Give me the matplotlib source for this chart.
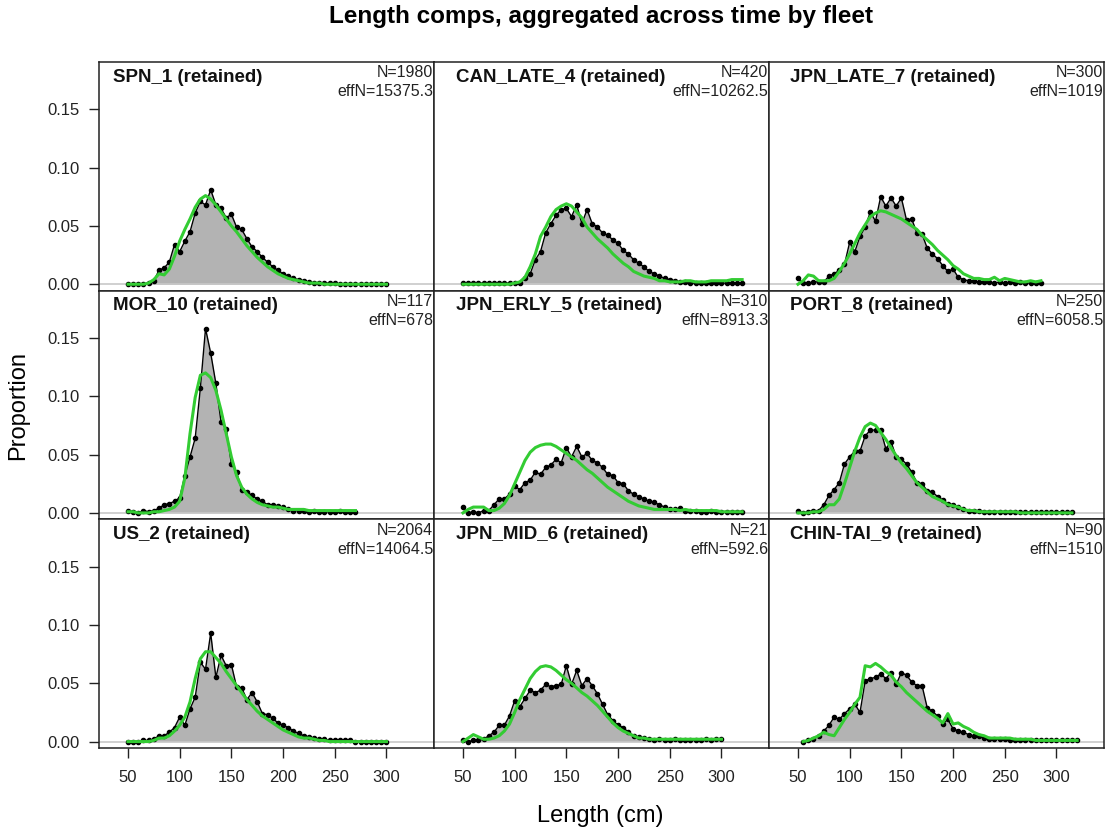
import numpy as np
import matplotlib
matplotlib.use("Agg")
import matplotlib.pyplot as plt

plt.rcParams['font.family'] = ['Liberation Sans', 'DejaVu Sans']

# panel names, sample sizes, length bin ranges (row by row)
fleets = ['SPN_1', 'CAN_LATE_4', 'JPN_LATE_7',
          'MOR_10', 'JPN_ERLY_5', 'PORT_8',
          'US_2', 'JPN_MID_6', 'CHIN-TAI_9']
n_obs = ['1980', '420', '300', '117', '310', '250', '2064', '21', '90']
eff_n = ['15375.3', '10262.5', '1019', '678', '8913.3', '6058.5', '14064.5', '592.6', '1510']
bin_start = [50, 50, 50, 50, 50, 50, 50, 50, 55]
bin_end = [300, 320, 285, 270, 320, 315, 300, 300, 320]

spn_obs = [0, 0, 0, 0, 0.001, 0.003, 0.012, 0.014, 0.019, 0.034,
           0.028, 0.037, 0.045, 0.061, 0.071, 0.068, 0.081, 0.068, 0.065, 0.057,
           0.060, 0.049, 0.047, 0.039, 0.032, 0.028, 0.023, 0.019, 0.015, 0.012,
           0.009, 0.007, 0.005, 0.004, 0.003, 0.002, 0.001, 0.001, 0.001, 0.001,
           0.001, 0, 0, 0, 0, 0, 0, 0, 0, 0, 0]
spn_exp = [0, 0, 0, 0, 0.001, 0.004, 0.009, 0.008, 0.013, 0.024,
           0.037, 0.047, 0.056, 0.066, 0.073, 0.076, 0.073, 0.068, 0.062, 0.056,
           0.050, 0.045, 0.039, 0.033, 0.028, 0.023, 0.019, 0.015, 0.012, 0.009,
           0.007, 0.005, 0.004, 0.003, 0.002, 0.001, 0.001, 0.001, 0, 0,
           0, 0, 0, 0, 0, 0, 0, 0, 0, 0, 0]

can_obs = [0.001, 0.001, 0.001, 0.001, 0.001, 0.001, 0.001, 0.001, 0.001, 0.001,
           0.001, 0.001, 0.005, 0.009, 0.021, 0.028, 0.044, 0.052, 0.059, 0.064,
           0.065, 0.058, 0.068, 0.052, 0.064, 0.052, 0.049, 0.044, 0.042, 0.038,
           0.035, 0.029, 0.026, 0.021, 0.018, 0.015, 0.011, 0.009, 0.007, 0.005,
           0.004, 0.003, 0.002, 0.002, 0.001, 0.001, 0.001, 0.001, 0.001, 0.001,
           0.001, 0.001, 0.001, 0.001, 0.001]
can_exp = [0, 0, 0, 0, 0, 0, 0, 0, 0, 0,
           0.001, 0.002, 0.006, 0.015, 0.026, 0.041, 0.049, 0.058, 0.064, 0.067,
           0.069, 0.067, 0.062, 0.057, 0.049, 0.044, 0.039, 0.035, 0.031, 0.026,
           0.022, 0.018, 0.015, 0.011, 0.009, 0.007, 0.006, 0.005, 0.003, 0.003,
           0.002, 0.002, 0.002, 0.003, 0.003, 0.002, 0.002, 0.002, 0.003, 0.003,
           0.003, 0.003, 0.004, 0.004, 0.004]

late_obs = [0.005, 0.001, 0.001, 0.002, 0.002, 0.002, 0.007, 0.009, 0.012, 0.017,
            0.036, 0.028, 0.041, 0.049, 0.062, 0.054, 0.075, 0.067, 0.074, 0.067,
            0.074, 0.055, 0.056, 0.044, 0.043, 0.031, 0.026, 0.022, 0.016, 0.011,
            0.013, 0.006, 0.004, 0.003, 0.003, 0.002, 0.002, 0.002, 0.001, 0.002,
            0.001, 0.002, 0.001, 0.002, 0.001, 0.001, 0.001, 0.001]
late_exp = [0, 0.003, 0.008, 0.007, 0.003, 0.003, 0.003, 0.005, 0.011, 0.018,
            0.026, 0.035, 0.044, 0.051, 0.058, 0.061, 0.063, 0.062, 0.060, 0.058,
            0.056, 0.053, 0.050, 0.047, 0.042, 0.038, 0.034, 0.029, 0.025, 0.021,
            0.016, 0.013, 0.009, 0.007, 0.005, 0.005, 0.004, 0.004, 0.006, 0.003,
            0.005, 0.004, 0.003, 0.002, 0.002, 0.003, 0.002, 0.003]

mor_obs = [0.002, 0.001, 0, 0.002, 0.001, 0.002, 0.004, 0.007, 0.008, 0.010,
           0.013, 0.032, 0.048, 0.064, 0.107, 0.158, 0.137, 0.111, 0.078, 0.072,
           0.042, 0.035, 0.020, 0.018, 0.015, 0.012, 0.010, 0.007, 0.007, 0.006,
           0.005, 0.003, 0.002, 0.002, 0.002, 0.001, 0.002, 0.001, 0.001, 0.001,
           0.001, 0.002, 0.001, 0.001, 0.001]
mor_exp = [0.001, 0.001, 0, 0, 0, 0.001, 0.001, 0.002, 0.003, 0.005,
           0.010, 0.030, 0.068, 0.099, 0.118, 0.120, 0.116, 0.105, 0.088, 0.068,
           0.048, 0.032, 0.022, 0.016, 0.012, 0.009, 0.007, 0.006, 0.005, 0.005,
           0.004, 0.003, 0.003, 0.003, 0.003, 0.002, 0.002, 0.002, 0.002, 0.002,
           0.002, 0.002, 0.002, 0.002, 0.002]

erly_obs = [0.005, 0, 0.001, 0, 0.002, 0.002, 0.007, 0.012, 0.012, 0.016,
            0.023, 0.020, 0.026, 0.028, 0.035, 0.033, 0.039, 0.041, 0.046, 0.043,
            0.056, 0.048, 0.057, 0.048, 0.051, 0.045, 0.043, 0.039, 0.033, 0.032,
            0.026, 0.025, 0.019, 0.016, 0.014, 0.012, 0.010, 0.009, 0.007, 0.005,
            0.003, 0.003, 0.004, 0.002, 0.002, 0.002, 0.001, 0.001, 0.002, 0.001,
            0.001, 0.001, 0.001, 0.001, 0.001]
erly_exp = [0, 0.003, 0.005, 0.005, 0.005, 0.002, 0.002, 0.004, 0.008, 0.015,
            0.025, 0.035, 0.045, 0.052, 0.056, 0.058, 0.059, 0.059, 0.057, 0.054,
            0.051, 0.048, 0.045, 0.041, 0.037, 0.034, 0.030, 0.026, 0.022, 0.019,
            0.016, 0.013, 0.010, 0.008, 0.006, 0.005, 0.004, 0.003, 0.003, 0.003,
            0.003, 0.003, 0.002, 0.003, 0.002, 0.002, 0.002, 0.002, 0.002, 0.002,
            0.001, 0.001, 0.001, 0.001, 0.001]

port_obs = [0.002, 0, 0.001, 0.002, 0.002, 0.007, 0.015, 0.020, 0.026, 0.042,
            0.048, 0.053, 0.053, 0.066, 0.071, 0.071, 0.071, 0.055, 0.061, 0.048,
            0.046, 0.042, 0.035, 0.026, 0.025, 0.019, 0.018, 0.014, 0.011, 0.008,
            0.007, 0.005, 0.003, 0.002, 0.002, 0.002, 0.001, 0.001, 0.001, 0.001,
            0.001, 0.001, 0.001, 0.001, 0.001, 0.001, 0.001, 0.001, 0.001, 0.001,
            0.001, 0.001, 0.001, 0.001]
port_exp = [0, 0, 0, 0.001, 0.001, 0.003, 0.007, 0.007, 0.012, 0.025,
            0.039, 0.053, 0.065, 0.074, 0.077, 0.075, 0.069, 0.063, 0.056, 0.049,
            0.043, 0.038, 0.032, 0.026, 0.022, 0.018, 0.014, 0.012, 0.010, 0.007,
            0.006, 0.005, 0.003, 0.002, 0.002, 0.001, 0.001, 0.001, 0.001, 0.001,
            0.001, 0.001, 0.001, 0, 0, 0, 0, 0, 0, 0,
            0, 0, 0, 0]

us_obs = [0, 0, 0, 0.001, 0.001, 0.002, 0.005, 0.005, 0.008, 0.012,
          0.021, 0.014, 0.028, 0.038, 0.068, 0.062, 0.093, 0.055, 0.074, 0.065,
          0.066, 0.047, 0.046, 0.036, 0.042, 0.034, 0.024, 0.023, 0.020, 0.016,
          0.014, 0.012, 0.009, 0.007, 0.005, 0.004, 0.003, 0.002, 0.002, 0.001,
          0.001, 0.001, 0.001, 0.001, 0, 0, 0, 0, 0, 0, 0]
us_exp = [0, 0, 0, 0, 0, 0.001, 0.003, 0.003, 0.005, 0.009,
          0.014, 0.021, 0.034, 0.054, 0.071, 0.077, 0.077, 0.072, 0.067, 0.060,
          0.054, 0.048, 0.042, 0.036, 0.031, 0.026, 0.022, 0.019, 0.016, 0.013,
          0.010, 0.008, 0.006, 0.004, 0.003, 0.003, 0.002, 0.001, 0.001, 0,
          0, 0, 0, 0, 0, 0, 0, 0, 0, 0, 0]

mid_obs = [0.001, 0, 0.001, 0.001, 0.002, 0.005, 0.008, 0.014, 0.014, 0.022,
           0.035, 0.030, 0.037, 0.044, 0.042, 0.044, 0.049, 0.047, 0.048, 0.049,
           0.065, 0.049, 0.061, 0.048, 0.054, 0.048, 0.041, 0.032, 0.023, 0.018,
           0.014, 0.012, 0.008, 0.005, 0.004, 0.003, 0.002, 0.001, 0.002, 0.001,
           0.001, 0.002, 0.001, 0.001, 0.001, 0.001, 0.001, 0.002, 0.001, 0.002,
           0.002]
mid_exp = [0, 0.003, 0.006, 0.004, 0.002, 0.002, 0.003, 0.005, 0.009, 0.015,
           0.025, 0.036, 0.045, 0.054, 0.060, 0.064, 0.065, 0.064, 0.061, 0.057,
           0.053, 0.050, 0.046, 0.042, 0.039, 0.035, 0.031, 0.026, 0.021, 0.016,
           0.012, 0.009, 0.007, 0.005, 0.003, 0.003, 0.002, 0.002, 0.002, 0.002,
           0.002, 0.002, 0.002, 0.002, 0.002, 0.002, 0.002, 0.002, 0.002, 0.002,
           0.002]

chin_obs = [0, 0.001, 0.002, 0.005, 0.009, 0.014, 0.021, 0.019, 0.024, 0.028,
            0.032, 0.025, 0.052, 0.054, 0.055, 0.058, 0.054, 0.059, 0.049, 0.059,
            0.057, 0.051, 0.048, 0.048, 0.029, 0.026, 0.022, 0.015, 0.019, 0.011,
            0.009, 0.008, 0.006, 0.005, 0.005, 0.003, 0.002, 0.002, 0.002, 0.002,
            0.001, 0.001, 0.001, 0.001, 0.001, 0.001, 0.001, 0.001, 0.001, 0.001,
            0.001, 0.001, 0.001, 0.001]
chin_exp = [0, 0.001, 0.003, 0.005, 0.008, 0.006, 0.005, 0.012, 0.019, 0.025,
            0.032, 0.038, 0.065, 0.064, 0.067, 0.064, 0.060, 0.057, 0.051, 0.047,
            0.042, 0.038, 0.034, 0.030, 0.026, 0.023, 0.020, 0.016, 0.024, 0.015,
            0.016, 0.013, 0.011, 0.008, 0.006, 0.005, 0.003, 0.003, 0.003, 0.003,
            0.003, 0.002, 0.002, 0.002, 0.002, 0.001, 0.001, 0.001, 0.001, 0.001,
            0.001, 0.001, 0.001, 0.001]

obs_all = [spn_obs, can_obs, late_obs, mor_obs, erly_obs, port_obs, us_obs, mid_obs, chin_obs]
exp_all = [spn_exp, can_exp, late_exp, mor_exp, erly_exp, port_exp, us_exp, mid_exp, chin_exp]

x_ticks = [50, 100, 150, 200, 250, 300]
y_ticks = [0.0, 0.05, 0.10, 0.15]
y_labels = ['0.00', '0.05', '0.10', '0.15']

fill_col = '#b3b3b3'
green = '#33cc33'

fig = plt.figure(figsize=(11.09, 8.30), dpi=100)
axes = fig.subplots(3, 3, sharex=True, sharey=True,
                    gridspec_kw=dict(hspace=0, wspace=0))
fig.subplots_adjust(left=0.0893, right=0.9955, top=0.9253, bottom=0.0988)

label_off = [0.042, 0.065, 0.062]

for i, ax in enumerate(axes.flat):
    row, col = divmod(i, 3)
    lens = np.arange(bin_start[i], bin_end[i] + 1, 5)
    obs = np.array(obs_all[i])
    exp = np.array(exp_all[i])

    ax.fill_between(lens, 0, obs, color=fill_col, lw=0, zorder=1)
    ax.axhline(0, color='#c8c8c8', lw=1.2, zorder=2)
    ax.plot(lens, obs, color='black', lw=1.0, marker='o', ms=3.0, zorder=3)
    ax.plot(lens, exp, color=green, lw=2.2, zorder=4)

    ax.set_xlim(22, 346)
    ax.set_ylim(-0.0055, 0.1905)
    ax.set_xticks(x_ticks)
    ax.set_yticks(y_ticks)
    ax.set_yticklabels(y_labels)
    ax.tick_params(direction='out', length=7, width=1, labelsize=12,
                   colors='#222222', pad=7)
    ax.tick_params(axis='x', pad=9)
    if row < 2:
        ax.tick_params(bottom=False)
    if col > 0:
        ax.tick_params(left=False)
    for s in ax.spines.values():
        s.set_linewidth(1.1)
        s.set_color('#222222')

    ax.text(label_off[col], 0.934, fleets[i] + ' (retained)', transform=ax.transAxes,
            ha='left', va='center', fontsize=13.5, fontweight='bold', color='#111111')
    ax.text(0.998, 0.952, 'N=' + n_obs[i], transform=ax.transAxes,
            ha='right', va='center', fontsize=11.5, color='#222222')
    ax.text(0.998, 0.869, 'effN=' + eff_n[i], transform=ax.transAxes,
            ha='right', va='center', fontsize=11.5, color='#222222')

fig.text(0.542, 1 - 17 / 830, 'Length comps, aggregated across time by fleet',
         ha='center', va='center', fontsize=17.5, fontweight='bold')
fig.text(0.541, 1 - 816 / 830, 'Length (cm)', ha='center', va='center', fontsize=17)
fig.text(18 / 1109, 1 - 405 / 830, 'Proportion', ha='center', va='center',
         rotation=90, fontsize=17)

fig.savefig('out.png', dpi=100)
